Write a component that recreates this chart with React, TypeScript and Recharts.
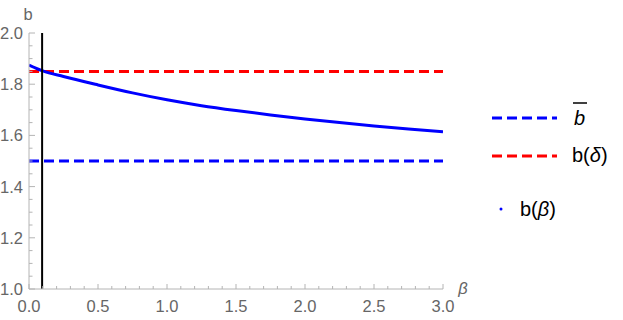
import React from 'react';
import { ComposedChart, Line, XAxis, YAxis, ReferenceLine } from 'recharts';

const betaValues = [0, 0.1, 0.25, 0.5, 0.75, 1.0, 1.25, 1.5, 1.75, 2.0, 2.25, 2.5, 2.75, 3.0];
const bBetaValues = [1.875, 1.852, 1.83, 1.797, 1.766, 1.739, 1.716, 1.697, 1.68, 1.664, 1.65, 1.637, 1.625, 1.614];
const bBarValue = 1.5;
const bDeltaValue = 1.85;
const markerBeta = 0.095;

const xTicks = [0, 0.1, 0.2, 0.3, 0.4, 0.5, 0.6, 0.7, 0.8, 0.9, 1.0, 1.1, 1.2, 1.3, 1.4, 1.5, 1.6, 1.7, 1.8, 1.9, 2.0, 2.1, 2.2, 2.3, 2.4, 2.5, 2.6, 2.7, 2.8, 2.9, 3.0];
const xMajorLabels = ['0.0', '0.5', '1.0', '1.5', '2.0', '2.5', '3.0'];
const yTicks = [1.0, 1.05, 1.1, 1.15, 1.2, 1.25, 1.3, 1.35, 1.4, 1.45, 1.5, 1.55, 1.6, 1.65, 1.7, 1.75, 1.8, 1.85, 1.9, 1.95, 2.0];
const yMajorLabels = ['1.0', '1.2', '1.4', '1.6', '1.8', '2.0'];

const data = betaValues.map((beta, i) => ({ beta, b: bBetaValues[i] }));

const AXIS = '#b4b4b4';
const LABEL = '#666666';
const FONT = '"Liberation Sans", Arial, sans-serif';

const isMult = (v: number, step: number) => Math.abs(v / step - Math.round(v / step)) < 1e-6;

const XTick = (props: any) => {
  const { x, y, payload } = props;
  const v = payload.value as number;
  const major = isMult(v, 0.5);
  const label = xMajorLabels.find((l) => Math.abs(parseFloat(l) - v) < 1e-6);
  return (
    <g>
      <line x1={x} y1={y} x2={x} y2={y - (major ? 5 : 3)} stroke={AXIS} strokeWidth={1} />
      {major && label ? (
        <text x={x} y={y + 23} textAnchor="middle" fill={LABEL} fontSize={16.5} fontFamily={FONT}>
          {label}
        </text>
      ) : null}
    </g>
  );
};

const YTick = (props: any) => {
  const { x, y, payload } = props;
  const v = payload.value as number;
  const major = isMult(v, 0.2);
  const label = yMajorLabels.find((l) => Math.abs(parseFloat(l) - v) < 1e-6);
  return (
    <g>
      <line x1={x} y1={y} x2={x + (major ? 6 : 3.5)} y2={y} stroke={AXIS} strokeWidth={1} />
      {major && label ? (
        <text x={x - 6} y={y + 6} textAnchor="end" fill={LABEL} fontSize={16.5} fontFamily={FONT}>
          {label}
        </text>
      ) : null}
    </g>
  );
};

const YLabel = (props: any) => {
  const vb = props.viewBox || { x: 0, y: 33 };
  return (
    <text x={vb.x + 28} y={vb.y - 13} textAnchor="middle" fill={LABEL} fontSize={16.5} fontFamily={FONT}>
      b
    </text>
  );
};

const XLabel = (props: any) => {
  const vb = props.viewBox || { x: 29, y: 289, width: 414 };
  return (
    <text x={vb.x + vb.width + 20} y={vb.y + 5} textAnchor="middle" fill={LABEL} fontSize={16.5} fontStyle="italic" fontFamily={FONT}>
      β
    </text>
  );
};

export default function App() {
  return (
    <div style={{ position: 'absolute', left: 0, top: 0, width: 623, height: 320, background: '#fff' }}>
      <ComposedChart width={623} height={320} data={data} margin={{ top: 33, right: 180, bottom: 0, left: 0 }}>
        <XAxis
          dataKey="beta"
          type="number"
          domain={[0, 3]}
          ticks={xTicks}
          interval={0}
          tickSize={0}
          tickMargin={0}
          tick={<XTick />}
          height={31}
          stroke={AXIS}
          axisLine={{ stroke: AXIS }}
          tickLine={false}
          allowDataOverflow
          label={<XLabel />}
        />
        <YAxis
          type="number"
          domain={[1, 2]}
          ticks={yTicks}
          interval={0}
          tickSize={0}
          tickMargin={0}
          tick={<YTick />}
          width={29}
          axisLine={{ stroke: AXIS }}
          tickLine={false}
          allowDataOverflow
          label={<YLabel />}
        />
        <ReferenceLine y={bBarValue} stroke="#0000ff" strokeWidth={3} strokeDasharray="10 5" />
        <ReferenceLine y={bDeltaValue} stroke="#ff0000" strokeWidth={3} strokeDasharray="10 5" />
        <Line
          dataKey="b"
          type="monotone"
          stroke="#0000ff"
          strokeWidth={3}
          dot={false}
          activeDot={false}
          isAnimationActive={false}
        />
        <ReferenceLine x={markerBeta} stroke="#000000" strokeWidth={2} />
      </ComposedChart>
      <svg width={623} height={320} style={{ position: 'absolute', left: 0, top: 0, pointerEvents: 'none' }}>
        <line x1={492} y1={118} x2={557} y2={118} stroke="#0000ff" strokeWidth={3} strokeDasharray="10 5" />
        <line x1={573} y1={103} x2={587} y2={103} stroke="#000" strokeWidth={1.5} />
        <text x={574} y={125} fontSize={20} fontStyle="italic" fontFamily={FONT} fill="#000">b</text>
        <line x1={492} y1={156} x2={557} y2={156} stroke="#ff0000" strokeWidth={3} strokeDasharray="10 5" />
        <text x={572} y={162} fontSize={20} fontFamily={FONT} fill="#000">
          b(<tspan fontStyle="italic">δ</tspan>)
        </text>
        <circle cx={501} cy={209} r={1.5} fill="#0000ff" />
        <text x={520} y={216} fontSize={20} fontFamily={FONT} fill="#000">
          b(<tspan fontStyle="italic">β</tspan>)
        </text>
      </svg>
    </div>
  );
}
